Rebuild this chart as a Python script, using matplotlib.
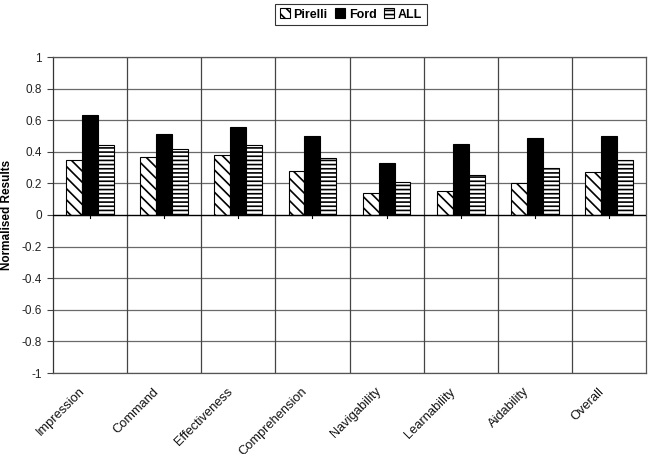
import matplotlib
matplotlib.use("Agg")
import matplotlib.pyplot as plt
import matplotlib.transforms as mtransforms
import numpy as np

plt.rcParams['font.family'] = ['Liberation Sans', 'DejaVu Sans']
plt.rcParams['hatch.linewidth'] = 1.2

categories = ["Impression", "Command", "Effectiveness", "Comprehension",
              "Navigability", "Learnability", "Aidability", "Overall"]
pirelli = [0.35, 0.37, 0.38, 0.28, 0.14, 0.15, 0.20, 0.27]
ford = [0.63, 0.51, 0.56, 0.50, 0.33, 0.45, 0.49, 0.50]
all_ = [0.44, 0.42, 0.44, 0.36, 0.21, 0.25, 0.30, 0.35]
series_names = ["Pirelli", "Ford", "ALL"]
yticks = [1, 0.8, 0.6, 0.4, 0.2, 0, -0.2, -0.4, -0.6, -0.8, -1]
ytick_labels = ["1", "0.8", "0.6", "0.4", "0.2", "0", "-0.2", "-0.4", "-0.6", "-0.8", "-1"]

fig = plt.figure(figsize=(6.5, 4.54), dpi=100)
ax = fig.add_axes([53/650, 1-373/454, (646-53)/650, (373-57)/454])

x = np.arange(len(categories))
w = 0.215
ax.bar(x - w, pirelli, w, color='white', edgecolor='black', hatch='\\\\\\', linewidth=0.8,
       label=series_names[0], zorder=3)
ax.bar(x, ford, w, color='black', edgecolor='black', linewidth=0.8,
       label=series_names[1], zorder=3)
ax.bar(x + w, all_, w, color='white', edgecolor='black', hatch='----', linewidth=0.8,
       label=series_names[2], zorder=3)

ax.set_xlim(-0.5, len(categories) - 0.5)
ax.set_ylim(-1, 1)
ax.set_yticks(yticks)
ax.set_yticklabels(ytick_labels, fontsize=8.5, color='#222222')
ax.tick_params(axis='y', direction='out', length=4, width=0.8, color='#444444', pad=4)

# grid lines
for yv in yticks:
    if yv != 0:
        ax.axhline(yv, color='#6a6a6a', linewidth=0.9, zorder=1)
for xv in np.arange(0.5, len(categories) - 0.5, 1):
    ax.axvline(xv, color='#444444', linewidth=0.9, zorder=1)

# zero axis line with ticks
ax.axhline(0, color='black', linewidth=1.0, zorder=4)
for xv in x:
    ax.plot([xv, xv], [0, -0.018], color='black', linewidth=0.8, zorder=4, clip_on=False)

for s in ax.spines.values():
    s.set_color('#555555')
    s.set_linewidth(0.9)
ax.spines['left'].set_color('#333333')

ax.set_xticks(x)
ax.set_xticklabels(categories, rotation=45, ha='right', va='top', fontsize=9.3, color='#111111')
ax.tick_params(axis='x', length=0, pad=9)
offset = mtransforms.ScaledTranslation(-3/100, 0, fig.dpi_scale_trans)
for lbl in ax.get_xticklabels():
    lbl.set_transform(lbl.get_transform() + offset)

ax.set_ylabel("Normalised Results", fontsize=8.5, fontweight='bold', labelpad=6)

leg = ax.legend(loc='upper center', bbox_to_anchor=(351/650, 1 - 4/454), bbox_transform=fig.transFigure,
                ncol=3, frameon=True, fancybox=False, edgecolor='black',
                prop={'weight': 'bold', 'size': 9}, handlelength=0.8, handleheight=0.8,
                handletextpad=0.3, columnspacing=0.6, borderpad=0.35, borderaxespad=0)
leg.get_frame().set_linewidth(0.8)

fig.savefig("out.png", dpi=100)
